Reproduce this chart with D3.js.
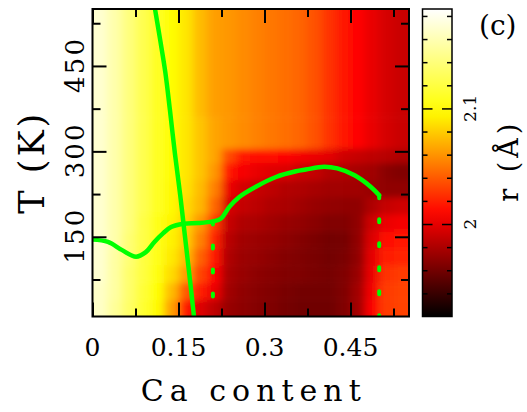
<!DOCTYPE html>
<html>
<head>
<meta charset="utf-8">
<script src="https://cdnjs.cloudflare.com/ajax/libs/d3/7.8.5/d3.min.js"></script>
<style>
  body { margin: 0; background: #fff; }
  svg text { font-family: "DejaVu Serif", "Liberation Serif", serif; fill: #000; }
</style>
</head>
<body>
<svg id="chart" width="527" height="412"></svg>
<script>
// Ca content cell edges and temperature band edges (K)
var caEdges = [0, 0.025, 0.05, 0.075, 0.1, 0.125, 0.15, 0.175, 0.2, 0.225, 0.25, 0.275,
               0.3, 0.325, 0.35, 0.375, 0.4, 0.425, 0.45, 0.475, 0.5, 0.525, 0.55];
var tempEdges = [10, 40, 70, 100, 130, 160, 190, 220, 250, 280, 305, 360, 420, 480, 550];

// r (Angstrom), one row per temperature band (low T first), one value per Ca cell
var r_T10  = [2.167, 2.151, 2.133, 2.114, 2.096, 2.064, 2.016, 1.997, 1.986, 1.973, 1.969, 1.966, 1.964, 1.961, 1.959, 1.959, 1.959, 1.964, 1.976, 2.008, 2.029, 2.032];
var r_T40  = [2.167, 2.154, 2.135, 2.117, 2.098, 2.074, 2.040, 2.018, 2.002, 1.976, 1.970, 1.967, 1.965, 1.962, 1.960, 1.960, 1.960, 1.964, 1.976, 2.005, 2.029, 2.032];
var r_T70  = [2.170, 2.154, 2.135, 2.120, 2.101, 2.085, 2.064, 2.032, 2.010, 1.978, 1.973, 1.969, 1.967, 1.965, 1.964, 1.962, 1.961, 1.964, 1.973, 2.002, 2.026, 2.029];
var r_T100 = [2.170, 2.154, 2.138, 2.120, 2.104, 2.090, 2.074, 2.042, 2.016, 1.981, 1.974, 1.972, 1.969, 1.966, 1.964, 1.962, 1.960, 1.962, 1.970, 2.000, 2.018, 2.021];
var r_T130 = [2.170, 2.157, 2.138, 2.122, 2.106, 2.093, 2.080, 2.053, 2.021, 1.984, 1.976, 1.974, 1.972, 1.969, 1.966, 1.963, 1.960, 1.961, 1.970, 1.997, 2.012, 2.016];
var r_T160 = [2.170, 2.157, 2.141, 2.122, 2.106, 2.094, 2.082, 2.061, 2.029, 1.989, 1.981, 1.979, 1.976, 1.973, 1.971, 1.968, 1.965, 1.965, 1.970, 1.992, 2.002, 2.005];
var r_T190 = [2.170, 2.157, 2.141, 2.125, 2.109, 2.096, 2.085, 2.072, 2.045, 1.994, 1.988, 1.985, 1.981, 1.979, 1.976, 1.973, 1.971, 1.970, 1.970, 1.981, 1.989, 1.992];
var r_T220 = [2.170, 2.157, 2.141, 2.125, 2.109, 2.096, 2.088, 2.074, 2.053, 2.002, 1.993, 1.989, 1.986, 1.982, 1.981, 1.978, 1.976, 1.976, 1.976, 1.973, 1.970, 1.970];
var r_T250 = [2.170, 2.157, 2.141, 2.125, 2.109, 2.097, 2.089, 2.077, 2.061, 2.016, 2.006, 2.001, 1.998, 1.996, 1.990, 1.988, 1.982, 1.981, 1.978, 1.976, 1.968, 1.965];
var r_T280 = [2.170, 2.157, 2.141, 2.125, 2.109, 2.097, 2.089, 2.077, 2.066, 2.034, 2.016, 2.014, 2.011, 2.008, 2.005, 2.002, 1.999, 1.992, 1.989, 1.986, 1.984, 1.981];
var r_T305 = [2.170, 2.157, 2.141, 2.125, 2.109, 2.097, 2.089, 2.077, 2.066, 2.061, 2.057, 2.053, 2.050, 2.047, 2.043, 2.037, 2.026, 2.016, 2.009, 2.001, 1.994, 1.990];
var r_T360 = [2.170, 2.157, 2.141, 2.125, 2.109, 2.097, 2.089, 2.074, 2.064, 2.061, 2.057, 2.053, 2.050, 2.047, 2.043, 2.037, 2.026, 2.016, 2.009, 2.001, 1.994, 1.990];
var r_T420 = [2.170, 2.157, 2.141, 2.125, 2.109, 2.097, 2.089, 2.074, 2.064, 2.061, 2.057, 2.053, 2.050, 2.047, 2.043, 2.037, 2.026, 2.016, 2.009, 2.001, 1.994, 1.990];
var r_T480 = [2.170, 2.157, 2.141, 2.125, 2.109, 2.097, 2.089, 2.074, 2.064, 2.061, 2.057, 2.053, 2.050, 2.047, 2.043, 2.037, 2.026, 2.016, 2.009, 2.001, 1.994, 1.990];
var rRows = [r_T10, r_T40, r_T70, r_T100, r_T130, r_T160, r_T190, r_T220, r_T250, r_T280, r_T305, r_T360, r_T420, r_T480];

// axis ticks
var xMajor = [0, 0.15, 0.3, 0.45];
var xLabels = ["0", "0.15", "0.3", "0.45"];
var xMinor = [0.075, 0.225, 0.375, 0.525];
var yMajor = [150, 300, 450];
var yLabels = ["150", "300", "450"];
var yMinor = [75, 225, 375, 525];
var rRange = [1.92, 2.186];
var cbMajor = [2, 2.1];
var cbLabels = ["2", "2.1"];
var cbMinor = [1.94, 1.96, 1.98, 2.02, 2.04, 2.06, 2.08, 2.12, 2.14, 2.16, 2.18];

// green curves
var steepCa = [0.109, 0.118, 0.127, 0.135, 0.144, 0.153, 0.161, 0.169, 0.177];
var steepT  = [550, 496, 439, 373, 294, 223, 153, 83, 10];
var waveCa = [0, 0.027, 0.051, 0.076, 0.093, 0.108, 0.123, 0.137, 0.158, 0.184, 0.21, 0.224,
              0.239, 0.256, 0.285, 0.32, 0.355, 0.372, 0.404, 0.427, 0.457, 0.485, 0.5];
var waveT  = [145, 141, 127, 115, 123, 141, 156, 167, 173, 174, 177, 182,
              203, 220, 238, 255, 265, 268, 273, 270, 258, 238, 223];
var dropCa  = [0.21, 0.5];
var dropTop = [177, 223];
var dropBottom = 10;

var svg = d3.select("#chart");
var pLeft = 92.5, pRight = 409, pTop = 9, pBottom = 316.5;

var x = d3.scaleLinear().domain([0, 0.552]).range([pLeft, pRight]);
var y = d3.scaleLinear().domain([10, 550]).range([pBottom, pTop]);

var span = rRange[1] - rRange[0];
var color = d3.scaleLinear()
    .domain([rRange[0], rRange[0] + span / 3, rRange[0] + 2 * span / 3, rRange[1]])
    .range(["#000000", "#ff0000", "#ffff00", "#ffffff"])
    .clamp(true);

var defs = svg.append("defs");
defs.append("clipPath").attr("id", "plotClip")
  .append("rect").attr("x", pLeft).attr("y", pTop)
  .attr("width", pRight - pLeft).attr("height", pBottom - pTop);
defs.append("filter").attr("id", "smooth")
    .attr("x", "-10%").attr("y", "-10%").attr("width", "120%").attr("height", "120%")
  .append("feGaussianBlur").attr("stdDeviation", "4 3");

// heat map cells (edge cells pushed out a bit so the blur does not fade at the frame)
var cells = [];
rRows.forEach(function(row, j) {
  row.forEach(function(v, i) {
    cells.push({i: i, j: j, v: v});
  });
});
var pad = 20;
var nx = caEdges.length - 2, ny = tempEdges.length - 2;

var heat = svg.append("g").attr("clip-path", "url(#plotClip)")
  .append("g").attr("filter", "url(#smooth)");
heat.selectAll("rect")
  .data(cells)
  .enter()
  .append("rect")
  .attr("x", function(d) { return x(caEdges[d.i]) - (d.i === 0 ? pad : 0); })
  .attr("y", function(d) { return y(tempEdges[d.j + 1]) - (d.j === ny ? pad : 0); })
  .attr("width", function(d) {
    return x(caEdges[d.i + 1]) - x(caEdges[d.i]) + (d.i === 0 || d.i === nx ? pad : 0) + 0.5;
  })
  .attr("height", function(d) {
    return y(tempEdges[d.j]) - y(tempEdges[d.j + 1]) + (d.j === 0 || d.j === ny ? pad : 0) + 0.5;
  })
  .attr("fill", function(d) { return color(d.v); });

// green lines
var lines = svg.append("g").attr("clip-path", "url(#plotClip)");
var curve = d3.line()
  .x(function(d) { return x(d[0]); })
  .y(function(d) { return y(d[1]); })
  .curve(d3.curveCatmullRom);
lines.append("path")
  .attr("d", curve(d3.zip(steepCa, steepT)))
  .attr("fill", "none").attr("stroke", "#00ff00").attr("stroke-width", 4.5);
lines.append("path")
  .attr("d", curve(d3.zip(waveCa, waveT)))
  .attr("fill", "none").attr("stroke", "#00ff00").attr("stroke-width", 4.5)
  .attr("stroke-linecap", "round");
dropCa.forEach(function(c, k) {
  lines.append("line")
    .attr("x1", x(c)).attr("x2", x(c))
    .attr("y1", y(dropTop[k])).attr("y2", y(dropBottom))
    .attr("stroke", "#00ff00").attr("stroke-width", 4)
    .attr("stroke-linecap", "round")
    .attr("stroke-dasharray", "3 21");
});

// tick marks on all four sides, pointing inward
function ticks(axis, vals, len, tx, ty, w) {
  var g = svg.append("g").attr("transform", "translate(" + tx + "," + ty + ")")
    .call(axis.tickValues(vals).tickSize(-len).tickFormat(""));
  g.select(".domain").remove();
  g.selectAll("line").attr("stroke", "#000").attr("stroke-width", w || 2);
}
ticks(d3.axisBottom(x), xMajor, 14, 0, pBottom);
ticks(d3.axisBottom(x), xMinor, 8, 0, pBottom);
ticks(d3.axisTop(x), xMajor, 14, 0, pTop);
ticks(d3.axisTop(x), xMinor, 8, 0, pTop);
ticks(d3.axisLeft(y), yMajor, 14, pLeft, 0);
ticks(d3.axisLeft(y), yMinor, 8, pLeft, 0);
ticks(d3.axisRight(y), yMajor, 14, pRight, 0);
ticks(d3.axisRight(y), yMinor, 8, pRight, 0);

svg.append("rect")
  .attr("x", pLeft).attr("y", pTop)
  .attr("width", pRight - pLeft).attr("height", pBottom - pTop)
  .attr("fill", "none").attr("stroke", "#000").attr("stroke-width", 2);

// labels
function label(s, tx, ty, size, rot, len, anchor) {
  var t = svg.append("text")
    .attr("transform", "translate(" + tx + "," + ty + ")" + (rot ? " rotate(-90)" : ""))
    .attr("text-anchor", anchor || "middle")
    .style("font-size", size + "px")
    .text(s);
  if (len) t.attr("textLength", len).attr("lengthAdjust", "spacing");
}
xMajor.forEach(function(v, i) { label(xLabels[i], x(v), 355.5, 25); });
yMajor.forEach(function(v, i) { label(yLabels[i], 83.5, y(v), 26, true, 54); });
label("Ca content", (pLeft + pRight) / 2, 401, 30, false, 220);
label("T (K)", 44, (pTop + pBottom) / 2 + 1, 35, true, 100);

// colour bar
var cbLeft = 422.5, cbRight = 452;
var cb = d3.scaleLinear().domain(rRange).range([pBottom, pTop]);
var grad = defs.append("linearGradient").attr("id", "cbGrad")
  .attr("x1", 0).attr("y1", 1).attr("x2", 0).attr("y2", 0);
grad.selectAll("stop")
  .data(d3.range(0, 1.0001, 0.05))
  .enter()
  .append("stop")
  .attr("offset", function(d) { return d; })
  .attr("stop-color", function(d) { return color(rRange[0] + d * span); });
svg.append("rect")
  .attr("x", cbLeft).attr("y", pTop)
  .attr("width", cbRight - cbLeft).attr("height", pBottom - pTop)
  .attr("fill", "url(#cbGrad)");

ticks(d3.axisLeft(cb), cbMajor, 10, cbLeft, 0, 1.5);
ticks(d3.axisLeft(cb), cbMinor, 5, cbLeft, 0, 1.5);
ticks(d3.axisRight(cb), cbMajor, 10, cbRight, 0, 1.5);
ticks(d3.axisRight(cb), cbMinor, 5, cbRight, 0, 1.5);
svg.append("rect")
  .attr("x", cbLeft).attr("y", pTop)
  .attr("width", cbRight - cbLeft).attr("height", pBottom - pTop)
  .attr("fill", "none").attr("stroke", "#000").attr("stroke-width", 1.5);

cbMajor.forEach(function(v, i) { label(cbLabels[i], 476, cb(v), 17, true); });
label("r (\u00c5)", 518, (pTop + pBottom) / 2, 27, true, 78);
label("(c)", 479, 35, 28, false, null, "start");
</script>
</body>
</html>
